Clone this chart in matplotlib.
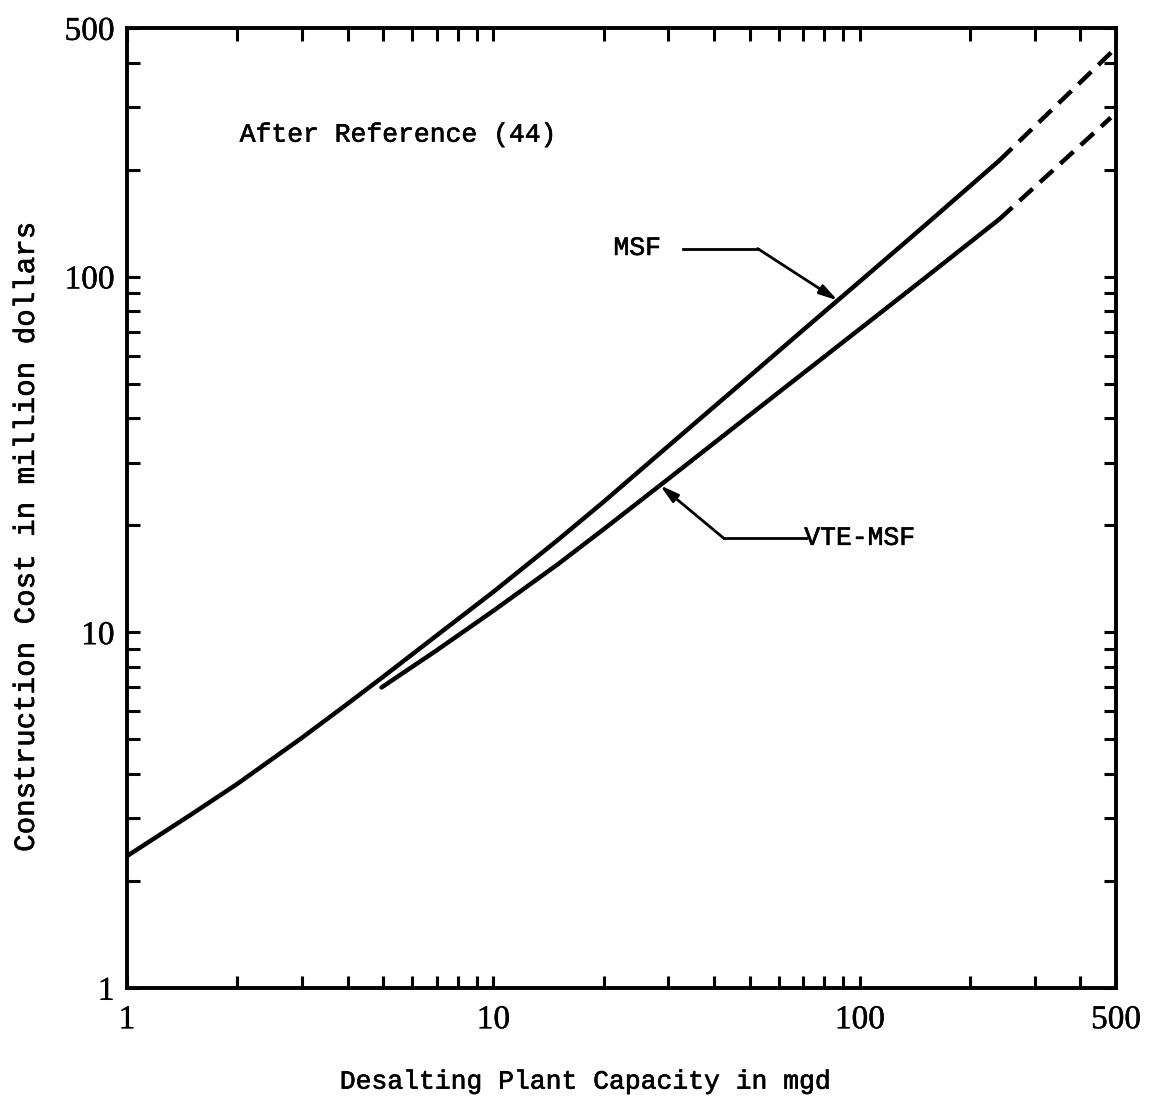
import numpy as np
import matplotlib.pyplot as plt
import matplotlib.patheffects as pe
from matplotlib.ticker import FixedLocator, FixedFormatter, NullFormatter

# Construction cost (million $) against plant capacity (mgd)
msf_cap = [1, 1.5, 2, 3, 4, 5, 7, 10, 15, 20, 30, 50, 70, 100, 150, 240]
msf_cost = [2.35, 3.08, 3.75, 5.05, 6.3, 7.5, 9.8, 13.0, 18.2, 23.3, 33.4,
            52.5, 70.8, 97, 139, 212]
msf_ext_cap = [240, 500]
msf_ext_cost = [212, 440]

vte_cap = [4.95, 7, 10, 15, 20, 30, 50, 70, 100, 150, 240]
vte_cost = [7.0, 8.9, 11.5, 15.55, 19.5, 27.0, 40.8, 53.5, 71.3, 98.9, 145]
vte_ext_cap = [240, 484]
vte_ext_cost = [145, 280]

tick_vals = [1, 10, 100, 500]
tick_text = ['1', '10', '100', '500']

mono = 'Liberation Mono'
serif = 'Liberation Serif'
heavy = [pe.withStroke(linewidth=0.45, foreground='black')]

fig = plt.figure(figsize=(11.53, 11.02), dpi=100)
ax = fig.add_axes([0.1101, 0.1034, 0.8578, 0.8711])
ax.set_xscale('log')
ax.set_yscale('log')
ax.set_xlim(1, 500)
ax.set_ylim(1, 500)

lw = 3.2
ax.plot(msf_cap, msf_cost, color='black', lw=lw, solid_capstyle='round',
        solid_joinstyle='round')
ax.plot(msf_ext_cap, msf_ext_cost, color='black', lw=lw, ls=(0, (4, 2.2)))
ax.plot(vte_cap, vte_cost, color='black', lw=lw, solid_capstyle='round',
        solid_joinstyle='round')
ax.plot(vte_ext_cap, vte_ext_cost, color='black', lw=lw, ls=(0, (4, 2.2)))

# ticks inside on all four sides
minor = [m * 10 ** e for e in range(0, 3) for m in range(2, 10) if m * 10 ** e < 500]
for axis in (ax.xaxis, ax.yaxis):
    axis.set_major_locator(FixedLocator(tick_vals))
    axis.set_major_formatter(FixedFormatter(tick_text))
    axis.set_minor_locator(FixedLocator(minor))
    axis.set_minor_formatter(NullFormatter())
ax.tick_params(which='both', direction='in', top=True, right=True,
               width=2.2, length=9)
ax.tick_params(axis='x', which='major', pad=12, labelsize=24)
ax.tick_params(axis='y', which='major', pad=9, labelsize=24)
for lab in ax.get_xticklabels() + ax.get_yticklabels():
    lab.set_fontfamily(serif)
    lab.set_path_effects([pe.withStroke(linewidth=0.3, foreground='black')])
for sp in ax.spines.values():
    sp.set_linewidth(2.8)

ax.set_xlabel('Desalting Plant Capacity in mgd', fontfamily=mono,
              fontsize=19, path_effects=heavy)
ax.xaxis.set_label_coords(0.464, -0.085)
ax.set_ylabel('Construction Cost in million dollars', fontfamily=mono,
              fontsize=21, path_effects=heavy)
ax.yaxis.set_label_coords(-0.088, 0.47)

ax.text(0.114, 0.889, 'After Reference (44)', transform=ax.transAxes,
        fontfamily=mono, fontsize=19, va='center', ha='left',
        path_effects=heavy)


def on_curve(xs, ys, x):
    return 10 ** np.interp(np.log10(x), np.log10(xs), np.log10(ys))


arrow = dict(arrowstyle='-|>,head_length=1.1,head_width=0.3',
             color='black', lw=2.0, shrinkA=0, shrinkB=0)

# MSF label with leader
ax.text(0.516, 0.771, 'MSF', transform=ax.transAxes, fontfamily=mono,
        fontsize=19, va='center', ha='center', path_effects=heavy)
ax.plot([33, 52.6], [120, 120], color='black', lw=2.0)
tip = 87
ax.annotate('', xy=(tip, on_curve(msf_cap, msf_cost, tip)),
            xytext=(52.6, 120), arrowprops=arrow)

# VTE-MSF label with leader
ax.text(0.741, 0.469, 'VTE-MSF', transform=ax.transAxes, fontfamily=mono,
        fontsize=19, va='center', ha='center', path_effects=heavy)
ax.plot([42.5, 71.2], [18.4, 18.4], color='black', lw=2.0)
tip = 28.5
ax.annotate('', xy=(tip, on_curve(vte_cap, vte_cost, tip)),
            xytext=(42.5, 18.4), arrowprops=arrow)

fig.savefig('out.png', dpi=100)
